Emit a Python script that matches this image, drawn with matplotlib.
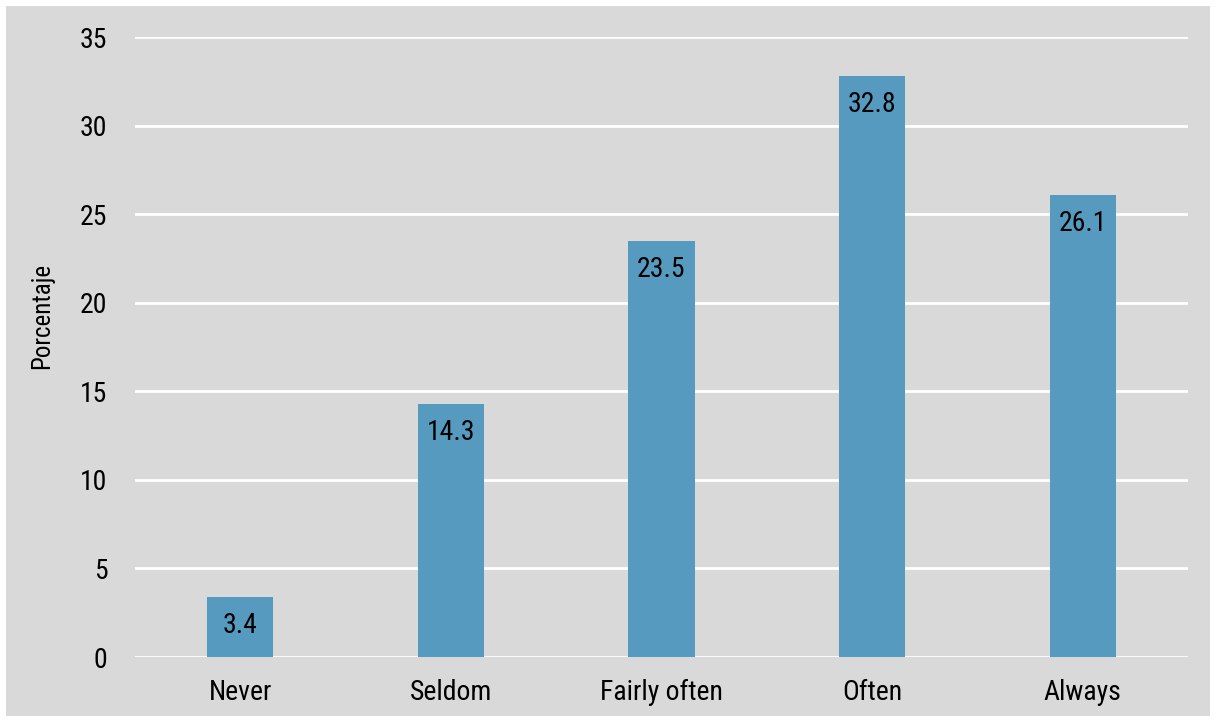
import matplotlib.pyplot as plt
from matplotlib.patches import Rectangle

categorias = ["Never", "Seldom", "Fairly often", "Often", "Always"]
porcentajes = [3.4, 14.3, 23.5, 32.8, 26.1]
yticks = [0, 5, 10, 15, 20, 25, 30, 35]

plt.rcParams["font.family"] = ["Roboto Condensed", "Liberation Sans", "DejaVu Sans"]

gris = "#d9d9d9"
azul = "#569bbf"

fig = plt.figure(figsize=(12.16, 7.22), dpi=100, facecolor="white")
W, H = 1216, 722
fig.patches.append(Rectangle((6 / W, 6 / H), 1 - 12 / W, 1 - 12 / H,
                             transform=fig.transFigure, facecolor=gris,
                             edgecolor="none", zorder=-5))

ax = fig.add_axes([135 / W, 1 - 657 / H, (1188 - 135) / W, (657 - 37) / H])
ax.set_zorder(2)
ax.set_facecolor(gris)

x = range(len(categorias))
barras = ax.bar(x, porcentajes, width=0.315, color=azul, zorder=3)
for b, v in zip(barras, porcentajes):
    ax.annotate(f"{v:.1f}", (b.get_x() + b.get_width() / 2, v),
                xytext=(0, -11), textcoords="offset points",
                ha="center", va="top", fontsize=20, color="black", zorder=4)

ax.set_xlim(-0.5, 4.5)
ax.set_ylim(0, 35)
ax.set_yticks(yticks)
ax.set_xticks(list(x))
ax.set_xticklabels(categorias)
ax.yaxis.grid(True, color="white", linewidth=2, zorder=1)
ax.set_axisbelow(True)
for s in ax.spines.values():
    s.set_visible(False)
ax.tick_params(axis="both", length=0, labelsize=20, colors="black")
ax.tick_params(axis="y", pad=20)
ax.tick_params(axis="x", pad=16)
ax.set_ylabel("Porcentaje", fontsize=18)
ax.yaxis.set_label_coords(-0.077, 0.55)

fig.savefig("out.png", dpi=100, facecolor="white")
